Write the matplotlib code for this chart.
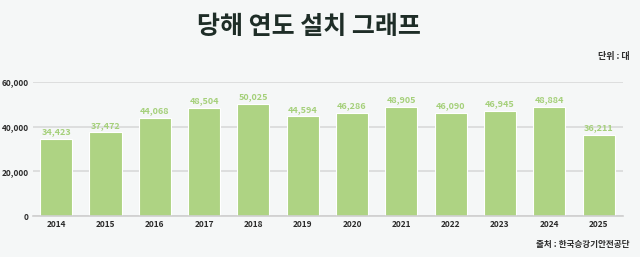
import matplotlib.pyplot as plt

plt.rcParams['font.family'] = ['Noto Sans CJK KR', 'DejaVu Sans']

years = ['2014', '2015', '2016', '2017', '2018', '2019',
         '2020', '2021', '2022', '2023', '2024', '2025']
installs = [34423, 37472, 44068, 48504, 50025, 44594,
            46286, 48905, 46090, 46945, 48884, 36211]
yticks = [0, 20000, 40000, 60000]

bg = '#f5f7f7'
bar_color = '#aed383'
label_color = '#a5d07a'
text_dark = '#2b2b2b'

fig = plt.figure(figsize=(6.4, 2.57), dpi=100, facecolor=bg)
ax = fig.add_axes([0.0516, 0.1595, 0.9214, 0.5215], facecolor=bg)

x = range(len(years))
ax.bar(x, installs, width=0.65, color=bar_color, edgecolor='white', linewidth=0.8, zorder=3)
for xi, v in zip(x, installs):
    ax.text(xi, v + 1200, f'{v:,}', ha='center', va='bottom', fontsize=6.5,
            color=label_color, fontweight='bold')

ax.set_xlim(-0.47, 11.49)
ax.set_ylim(0, 60000)
ax.set_yticks(yticks)
ax.set_yticklabels([f'{t:,}' for t in yticks])
ax.set_xticks(list(x))
ax.set_xticklabels(years)
ax.tick_params(axis='both', length=0, labelsize=6, colors=text_dark)
for lab in ax.get_xticklabels() + ax.get_yticklabels():
    lab.set_fontweight('bold')
ax.tick_params(axis='y', pad=3)
ax.tick_params(axis='x', pad=3)
ax.grid(axis='y', color='#d9d9d9', linewidth=1.2, zorder=0)
for s in ['top', 'right', 'left']:
    ax.spines[s].set_visible(False)
ax.spines['bottom'].set_color('#cfcfcf')
ax.spines['bottom'].set_linewidth(1.2)
ax.spines['bottom'].set_zorder(4)

fig.text(0.482, 0.893, '당해 연도 설치 그래프', ha='center', va='center',
         fontsize=18, fontweight='bold', color='#1e2d27')
fig.text(0.984, 0.782, '단위 : 대', ha='right', va='center',
         fontsize=6.5, fontweight='bold', color=text_dark)
fig.text(0.984, 0.047, '출처 : 한국승강기안전공단', ha='right', va='center',
         fontsize=6.2, fontweight='bold', color=text_dark)

fig.savefig('out.png', dpi=100, facecolor=bg)
